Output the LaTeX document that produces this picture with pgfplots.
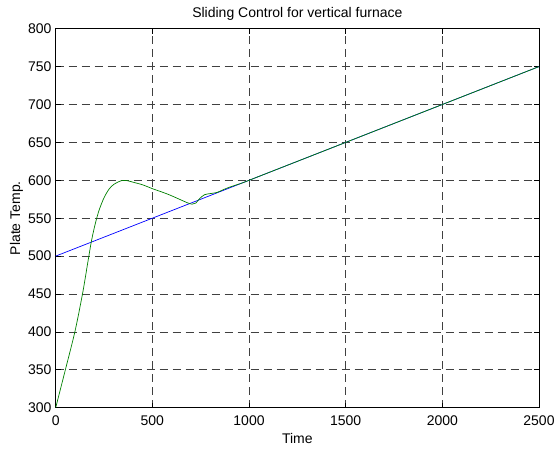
\documentclass[border=0pt]{standalone}
\usepackage{pgfplots}
\pgfplotsset{compat=1.18}
\usepackage{fontspec}
\setmainfont{Liberation Sans}
\definecolor{mblue}{RGB}{0,0,255}
\definecolor{mgreen}{RGB}{0,128,0}
\begin{document}
\begin{tikzpicture}
\useasboundingbox (-55.7pt,-42.3pt) rectangle (499.3pt,407.7pt);
\begin{axis}[
  at={(0,0)}, anchor=south west,
  scale only axis,
  width=483.3pt, height=379pt,
  xmin=0, xmax=2500, ymin=300, ymax=800,
  xtick={0,500,...,2500},
  ytick={300,350,...,800},
  tick align=inside,
  major tick length=5pt,
  tick style={black, line width=0.6pt},
  axis line style={black, line width=0.8pt},
  grid=major,
  major grid style={black!75, line width=0.6pt, dash pattern=on 8pt off 5pt},
  font=\fontsize{14}{16}\selectfont,
  /pgf/number format/assume math mode=true,
  /pgf/number format/1000 sep={},
  xticklabel style={anchor=base, inner sep=0pt, yshift=-17.8pt, font=\fontsize{14}{16}\selectfont},
  yticklabel style={anchor=east, inner sep=0pt, xshift=-4pt, font=\fontsize{14}{16}\selectfont},
  title={Sliding Control for vertical furnace},
  title style={at={(axis description cs:0.5,1)}, anchor=base, yshift=5.5pt, inner sep=0pt, font=\fontsize{14}{16}\selectfont},
  xlabel={Time},
  xlabel style={at={(axis description cs:0.5,0)}, anchor=base, yshift=-36pt, inner sep=0pt, font=\fontsize{14}{16}\selectfont},
  ylabel={Plate Temp.},
  ylabel style={at={(axis description cs:-0.0735,0.5)}, anchor=base, inner sep=0pt, font=\fontsize{14}{16}\selectfont},
]
\addplot[mblue, line width=0.7pt] coordinates {(0,500) (2500,750)};
\addplot[mgreen, line width=0.7pt, smooth, tension=0.5] coordinates {
(0,300) (50,350) (100,401) (140,452) (165,490) (185,520) (205,543) (225,561)
(250,577) (275,588) (300,594.5) (340,599.5) (370,599.5) (400,597.5) (450,594) (505,588.5)
(550,584.5) (591,580.5) (640,575) (680,570.5) (705,568.5) (725,570) (745,576)
(770,581) (800,582.5) (835,584) (870,588) (900,591) (935,594) (965,596.5)
(1000,600) (1100,610) (1250,625) (1500,650) (1750,675) (2000,700) (2250,725) (2500,750)};
\end{axis}
\end{tikzpicture}
\end{document}
